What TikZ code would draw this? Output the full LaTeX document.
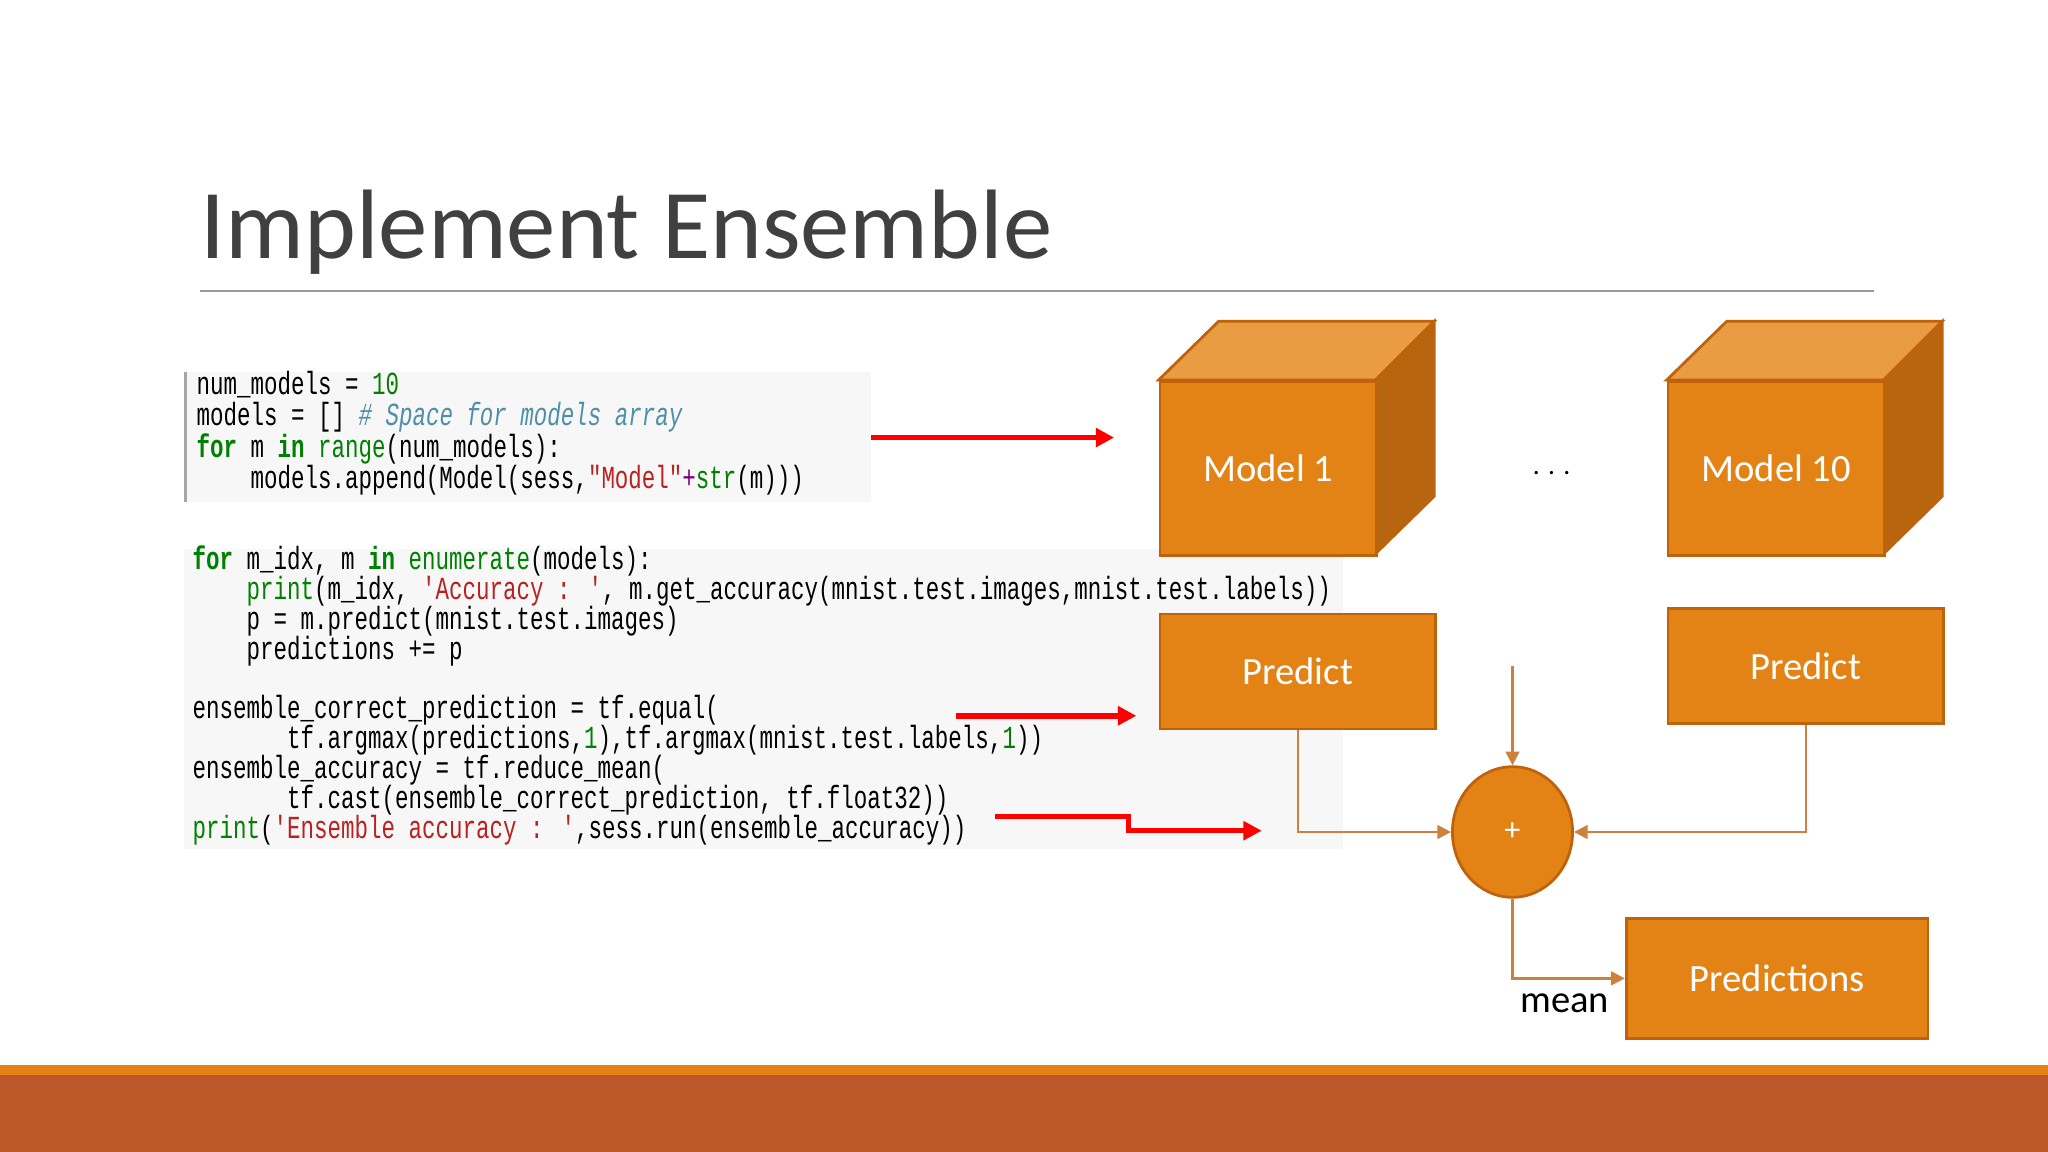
\documentclass[tikz,border=0pt]{standalone}
\usepackage{fontspec}
\setmainfont{Carlito}
\newfontfamily\codefont{Liberation Mono}
\usetikzlibrary{arrows.meta,shapes.geometric}
\definecolor{org}{HTML}{E38316}
\definecolor{orgtop}{HTML}{EA9C42}
\definecolor{orgside}{HTML}{B7650F}
\definecolor{orgedge}{HTML}{C0620C}
\definecolor{rust}{HTML}{BC582A}
\definecolor{kw}{HTML}{008000}
\definecolor{str}{HTML}{BA2121}
\definecolor{cmt}{HTML}{4F8FA8}
\definecolor{codebg}{HTML}{F7F7F7}
\tikzset{
  box/.style={draw=orgedge,fill=org,line width=0.6pt},
  lbl/.style={text=white,font=\fontsize{8.4}{10}\selectfont},
  codeline/.style={anchor=base west,inner sep=0pt,font=\codefont\fontsize{7}{8}\selectfont,xscale=0.70,transform shape},
  redarr/.style={red,line width=1.2pt,-{Triangle[length=4pt,width=4pt]}},
  conn/.style={orgedge!80,line width=0.5pt,-{Triangle[length=3pt,width=3pt]}}
}
\begin{document}
\begin{tikzpicture}[x=0.1mm,y=-0.1mm]
\useasboundingbox (0,0) rectangle (1568,882);
\fill[white] (0,0) rectangle (1568,882);
% title
\node[anchor=base west,inner sep=0pt,text=black!75,font=\fontsize{21.5}{26}\selectfont] (title) at (153,198) {Implement Ensemble};
\draw[black!40,line width=0.5pt] (153,223) -- (1435,223);
% bottom bar
\fill[org] (0,815) rectangle (1568,823);
\fill[rust] (0,823) rectangle (1568,882);
% code box 1
\fill[codebg] (141,285) rectangle (667,384);
\draw[black!35,line width=0.6pt] (142,285) -- (142,384);
\node[codeline] (c1) at (150,302) {num\_models = \textcolor{kw}{10}};
\node[codeline] (c2) at (150,326) {models = [] \textcolor{cmt}{\itshape\# Space for models array}};
\node[codeline] (c3) at (150,350) {\textcolor{kw}{\bfseries for} m \textcolor{kw}{\bfseries in} \textcolor{kw}{range}(num\_models):};
\node[codeline] (c4) at (150,374) {\ \ \ \ models.append(Model(sess,\textcolor{str}{"Model"}\textcolor{violet}{+}\textcolor{kw}{str}(m)))};
% code box 2
\fill[codebg] (141,420) rectangle (1028,650);
\node[codeline] (d1) at (147,436) {\textcolor{kw}{\bfseries for} m\_idx, m \textcolor{kw}{\bfseries in} \textcolor{kw}{enumerate}(models):};
\node[codeline] (d2) at (147,459) {\ \ \ \ \textcolor{kw}{print}(m\_idx, \textcolor{str}{'Accuracy : '}, m.get\_accuracy(mnist.test.images,mnist.test.labels))};
\node[codeline] (d3) at (147,482) {\ \ \ \ p = m.predict(mnist.test.images)};
\node[codeline] (d4) at (147,505) {\ \ \ \ predictions += p};
\node[codeline] (d5) at (147,550) {ensemble\_correct\_prediction = tf.equal(};
\node[codeline] (d6) at (147,573) {\ \ \ \ \ \ \ tf.argmax(predictions,\textcolor{kw}{1}),tf.argmax(mnist.test.labels,\textcolor{kw}{1}))};
\node[codeline] (d7) at (147,596) {ensemble\_accuracy = tf.reduce\_mean(};
\node[codeline] (d8) at (147,619) {\ \ \ \ \ \ \ tf.cast(ensemble\_correct\_prediction, tf.float32))};
\node[codeline] (d9) at (147,642) {\textcolor{kw}{print}(\textcolor{str}{'Ensemble accuracy : '},sess.run(ensemble\_accuracy))};
% red arrows
\coordinate (r1a) at (667,335); \coordinate (r1b) at (853,335);
\coordinate (r2a) at (732,548); \coordinate (r2b) at (870,548);
\coordinate (r3a) at (762,625); \coordinate (r3b) at (966,636);
\draw[redarr] (r1a) -- (r1b);
\draw[redarr] (r2a) -- (r2b);
\draw[redarr] (r3a) -- (864,625) -- (864,636) -- (r3b);
% cubes
\foreach \x/\name/\t in {887/m1/Model 1,1276/m10/Model 10}{
  \fill[orgtop,draw=orgedge,line width=0.6pt] (\x,291) -- (\x+46,246) -- (\x+211,246) -- (\x+166,291) -- cycle;
  \fill[orgside,draw=orgedge,line width=0.6pt] (\x+166,291) -- (\x+211,246) -- (\x+211,380) -- (\x+166,424) -- cycle;
  \node[box,lbl,minimum width=16.6mm,minimum height=13.3mm,inner sep=0pt,anchor=north west] (\name) at (\x,291) {\t};
}
\node[font=\fontsize{6}{8}\selectfont] (dots) at (1188,362) {. . .};
% predict boxes
\node[box,lbl,minimum width=21.1mm,minimum height=8.8mm,anchor=north west,inner sep=0pt] (p1) at (887,469) {Predict};
\node[box,lbl,minimum width=21.1mm,minimum height=8.8mm,anchor=north west,inner sep=0pt] (p2) at (1276,465) {Predict};
\node[ellipse,box,text=white,minimum width=9.2mm,minimum height=10mm,inner sep=0pt,font=\fontsize{7}{8}\selectfont] (plus) at (1158,637) {+};
\node[box,lbl,minimum width=23.1mm,minimum height=9.2mm,anchor=north west,inner sep=0pt] (pred) at (1244,702) {Predictions};
\node[anchor=base,inner sep=0pt,font=\fontsize{8.4}{10}\selectfont] (mean) at (1198,775) {mean};
\coordinate (top) at (1158,510);
\draw[conn] (p1.south) |- (plus.west);
\draw[conn] (p2.south) |- (plus.east);
\draw[conn] (top) -- (plus.north);
\draw[conn] (plus.south) |- (pred.west);
\end{tikzpicture}
\end{document}
